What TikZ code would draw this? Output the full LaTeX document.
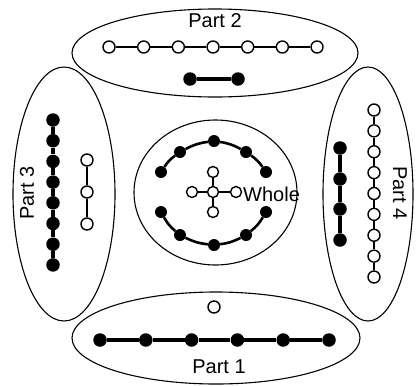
\documentclass[tikz,border=0pt]{standalone}
\usepackage{fontspec}
\setmainfont{Liberation Sans}
\begin{document}
\begin{tikzpicture}[x=1pt,y=-1pt,
  bn/.style={circle,fill=black,minimum size=13.5pt,inner sep=0pt},
  wn/.style={circle,draw,fill=white,line width=1.4pt,minimum size=12pt,inner sep=0pt},
  sbn/.style={circle,fill=black,minimum size=12pt,inner sep=0pt},
  swn/.style={circle,draw,fill=white,line width=1.4pt,minimum size=11pt,inner sep=0pt},
  bl/.style={line width=3.2pt},
  wl/.style={line width=2.8pt},
  ring/.style={line width=1.1pt},
  lbl/.style={font=\fontsize{20}{22}\selectfont,inner sep=0pt}]
\useasboundingbox (0,0) rectangle (417,386);
% ellipses
\draw[ring] (215,53) ellipse [x radius=143pt, y radius=44pt];
\draw[ring] (216,338) ellipse [x radius=144pt, y radius=46pt];
\draw[ring] (64,194) ellipse [x radius=51pt, y radius=127pt];
\draw[ring] (368,194) ellipse [x radius=45pt, y radius=127pt];
\draw[ring] (215.5,192.5) ellipse [x radius=81.5pt, y radius=72.5pt];
% Part 2
\node[lbl] (p2) at (215,21) {Part 2};
\foreach \i in {0,...,6} \node[wn] (t\i) at ({109+34.67*\i},47) {};
\foreach \i in {0,...,5} {\pgfmathtruncatemacro\j{\i+1}\draw[wl] (t\i) -- (t\j);}
\node[bn] (tb0) at (190,79) {};
\node[bn] (tb1) at (238,79) {};
\draw[bl] (tb0) -- (tb1);
% Part 1
\node[lbl] (p1) at (219,367) {Part 1};
\foreach \i in {0,...,5} \node[bn] (d\i) at ({100+45.8*\i},340) {};
\foreach \i in {0,...,4} {\pgfmathtruncatemacro\j{\i+1}\draw[bl] (d\i) -- (d\j);}
\node[wn] (dw) at (214,307) {};
% Part 3
\node[lbl,rotate=90] (p3) at (27,193) {Part 3};
\foreach \i in {0,...,7} \node[bn] (l\i) at (53,{120+20.7*\i}) {};
\foreach \i in {0,...,6} {\pgfmathtruncatemacro\j{\i+1}\draw[bl] (l\i) -- (l\j);}
\node[wn] (lw0) at (87,160) {};
\node[wn] (lw1) at (87,192) {};
\node[wn] (lw2) at (87,224) {};
\draw[wl] (lw0) -- (lw1) -- (lw2);
% Part 4
\node[lbl,rotate=-90] (p4) at (400,193) {Part 4};
\foreach \i in {0,...,8} \node[wn] (r\i) at (374,{110+20.875*\i}) {};
\foreach \i in {0,...,7} {\pgfmathtruncatemacro\j{\i+1}\draw[wl] (r\i) -- (r\j);}
\node[bn] (rb0) at (340,148) {};
\node[bn] (rb1) at (340,179) {};
\node[bn] (rb2) at (340,209) {};
\node[bn] (rb3) at (340,240) {};
\draw[bl] (rb0) -- (rb1) -- (rb2) -- (rb3);
% Whole
\node[sbn] (a0) at (161,172) {};
\node[sbn] (a1) at (180,152) {};
\node[sbn] (a2) at (214,141) {};
\node[sbn] (a3) at (246,152) {};
\node[sbn] (a4) at (266,172) {};
\node[sbn] (b0) at (161,212) {};
\node[sbn] (b1) at (180,235) {};
\node[sbn] (b2) at (214,245) {};
\node[sbn] (b3) at (246,235) {};
\node[sbn] (b4) at (266,212) {};
\foreach \i in {0,...,3} {\pgfmathtruncatemacro\j{\i+1}
  \draw[line width=2.6pt] (a\i) to[bend left=10] (a\j);
  \draw[line width=2.6pt] (b\i) to[bend right=10] (b\j);}
\node[swn] (c) at (213,192) {};
\node[swn] (cn) at (213,172) {};
\node[swn] (cs) at (213,212) {};
\node[swn] (cw) at (192,192) {};
\node[swn] (ce) at (236,192) {};
\draw[wl] (c) -- (cn); \draw[wl] (c) -- (cs);
\draw[wl] (c) -- (cw); \draw[wl] (c) -- (ce);
\node[lbl,anchor=west] (wh) at (243,194) {Whole};
\end{tikzpicture}
\end{document}
